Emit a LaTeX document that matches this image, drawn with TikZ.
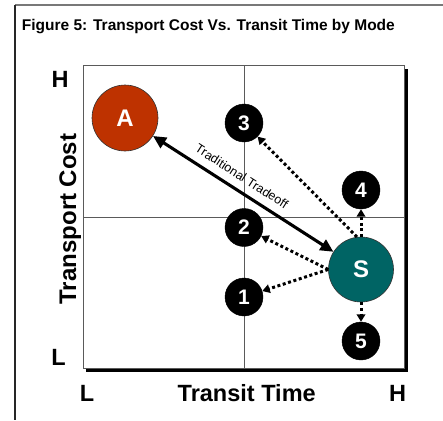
\documentclass[tikz,border=0pt]{standalone}
\usepackage{fontspec}
\setmainfont{Liberation Sans}
\usetikzlibrary{arrows.meta}
\definecolor{airred}{RGB}{190,50,0}
\definecolor{seateal}{RGB}{0,100,100}
\definecolor{gridgray}{RGB}{90,90,90}
\definecolor{framegray}{RGB}{120,120,120}
\begin{document}
\begin{tikzpicture}[x=1pt,y=-1pt,
  axislabel/.style={font=\fontsize{23.5}{28}\selectfont\bfseries, inner sep=0},
  bigmode/.style={circle, draw=black!80, line width=0.6pt, minimum size=66pt, inner sep=0,
    text=white, font=\fontsize{24}{28}\selectfont\bfseries},
  nummode/.style={circle, fill=black, draw=black, minimum size=38pt, inner sep=0,
    text=white, font=\fontsize{21}{24}\selectfont\bfseries},
  tradeoff/.style={line width=3.1pt,
    {Triangle[length=13pt,width=12pt]}-{Triangle[length=13pt,width=12pt]}},
  option/.style={line width=3pt, dash pattern=on 3pt off 2.6pt,
    -{Triangle[length=7.5pt,width=8.5pt]}},
  ]
\useasboundingbox (0,0) rectangle (443,420);

% outer frame (top and left edges)
\draw[framegray, line width=1.2pt] (15,5) -- (443,5);
\draw[black!85, line width=1.2pt] (15,5) -- (15,420);

% title
\node[anchor=base west, inner sep=0, font=\fontsize{15.5}{18}\selectfont\bfseries] (title)
  at (21.7,30.5) {Figure 5: Transport Cost Vs. Transit Time by Mode};

% plot area with drop shadow
\fill[black] (404.5,69) rectangle (408,371.5);
\fill[black] (86,368) rectangle (408,371.5);
\draw[gridgray, line width=0.9pt, fill=white] (83.5,65.5) rectangle (404.5,368);

% quadrant lines
\draw[gridgray, line width=0.9pt] (244,65.5) -- (244,368);
\draw[gridgray, line width=0.9pt] (83.5,217.3) -- (404.5,217.3);

% axis labels
\node[axislabel, anchor=base] (yhigh) at (60,87) {H};
\node[axislabel, anchor=base] (ylow) at (58.5,365) {L};
\node[axislabel, anchor=base, rotate=90, font=\fontsize{24}{28}\selectfont\bfseries] (ylab) at (76,219) {Transport Cost};
\node[axislabel, anchor=base] (xlow) at (87,401) {L};
\node[axislabel, anchor=base] (xlab) at (246.7,401) {Transit Time};
\node[axislabel, anchor=base] (xhigh) at (397.5,401) {H};

% modes
\node[bigmode, fill=airred] (A) at (125,118) {A};
\node[bigmode, fill=seateal, minimum size=65pt] (S) at (361,269.5) {S};
\node[nummode] (n3) at (244,123) {3};
\node[nummode] (n2) at (244,227.5) {2};
\node[nummode] (n1) at (244,297) {1};
\node[nummode] (n4) at (361,190) {4};
\node[nummode] (n5) at (361,341) {5};

% connectors
\draw[tradeoff] (A) -- (S)
  node[sloped, pos=0.45, above=8pt, inner sep=0, font=\fontsize{12.5}{15}\selectfont] (tlabel) {Traditional Tradeoff};
\draw[option] (S.97) -- (n3);
\draw[option] (S.north) -- (n4);
\draw[option] (S.west) -- (n2);
\draw[option] (S.west) -- (n1);
\draw[option] (S.south) -- (n5);
\end{tikzpicture}
\end{document}
